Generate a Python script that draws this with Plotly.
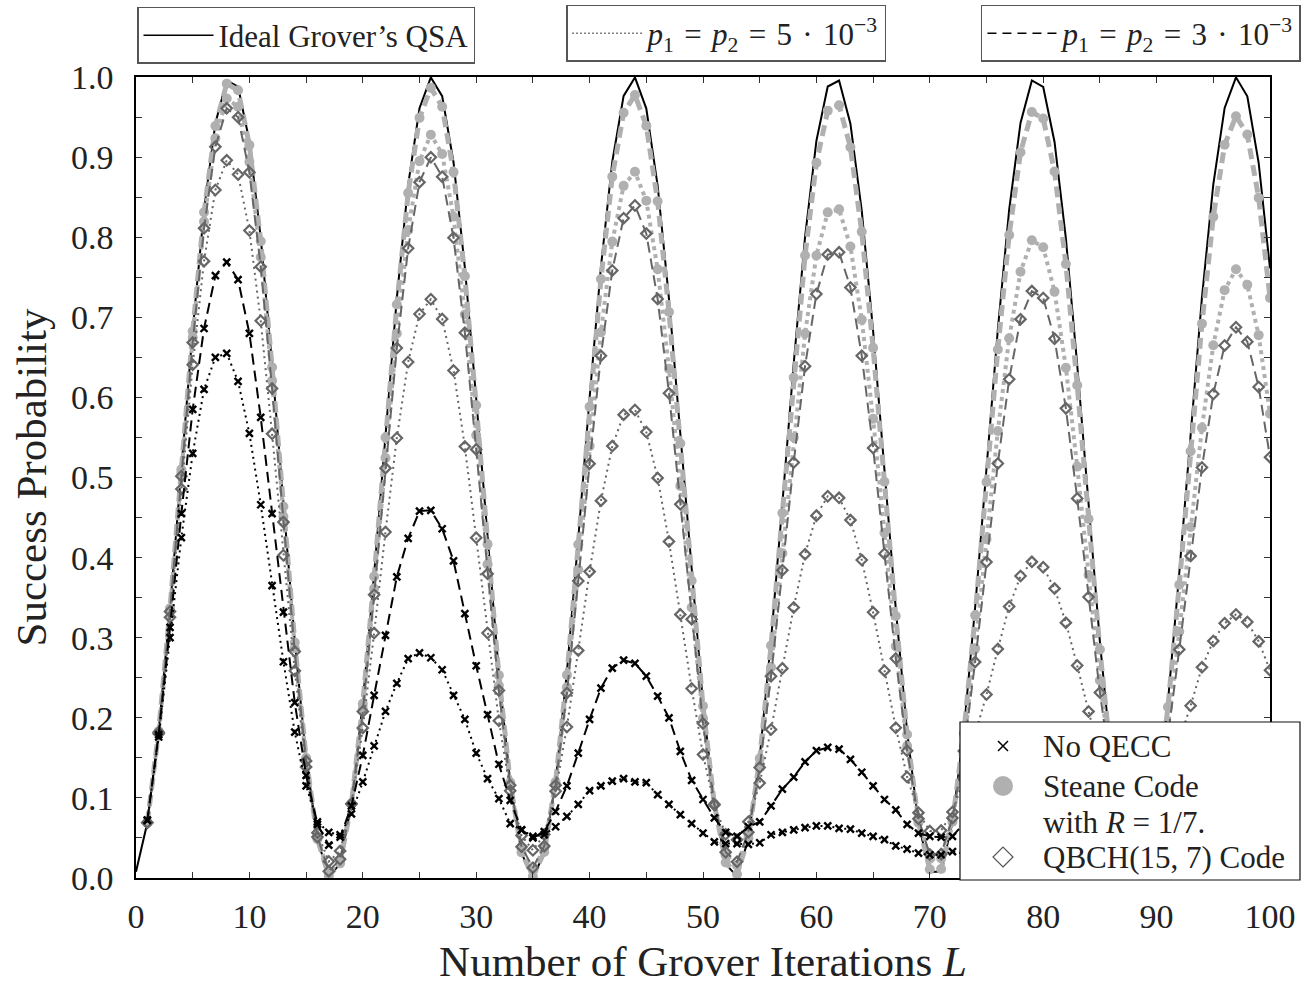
import plotly.graph_objects as go

# ---------------- data ----------------
L_ideal = list(range(0, 101))
L_noisy = list(range(1, 101))

ideal = [0.0078, 0.0689, 0.1833, 0.3371, 0.5108, 0.6840, 0.8336, 0.9422, 0.9957, 0.9879,
         0.9197, 0.7992, 0.6413, 0.4665, 0.2957, 0.1502, 0.0481, 0.0019, 0.0176, 0.0931,
         0.2190, 0.3798, 0.5556, 0.7240, 0.8653, 0.9610, 0.9995, 0.9761, 0.8936, 0.7621,
         0.5986, 0.4225, 0.2560, 0.1199, 0.0308, 0.0000, 0.0312, 0.1205, 0.2569, 0.4235,
         0.5996, 0.7630, 0.8942, 0.9764, 0.9995, 0.9606, 0.8645, 0.7231, 0.5547, 0.3789,
         0.2182, 0.0925, 0.0173, 0.0020, 0.0485, 0.1510, 0.2966, 0.4675, 0.6423, 0.8002,
         0.9203, 0.9881, 0.9956, 0.9417, 0.8328, 0.6830, 0.5098, 0.3362, 0.1826, 0.0683,
         0.0076, 0.0080, 0.0694, 0.1841, 0.3380, 0.5118, 0.6848, 0.8343, 0.9427, 0.9957,
         0.9876, 0.9189, 0.7985, 0.6403, 0.4655, 0.2948, 0.1495, 0.0476, 0.0018, 0.0178,
         0.0937, 0.2199, 0.3808, 0.5567, 0.7249, 0.8660, 0.9614, 0.9996, 0.9759, 0.8929,
         0.7612]

steane_p3 = [0.0689, 0.1832, 0.3367, 0.5099, 0.6824, 0.8311, 0.9389, 0.9917, 0.9835, 0.9151,
             0.7949, 0.6377, 0.4638, 0.2941, 0.1497, 0.0485, 0.0027, 0.0183, 0.0931, 0.2176,
             0.3765, 0.5500, 0.7160, 0.8551, 0.9490, 0.9865, 0.9629, 0.8812, 0.7514, 0.5902,
             0.4168, 0.2531, 0.1194, 0.0319, 0.0017, 0.0324, 0.1199, 0.2534, 0.4163, 0.5884,
             0.7478, 0.8756, 0.9554, 0.9775, 0.9391, 0.8449, 0.7067, 0.5424, 0.3711, 0.2147,
             0.0924, 0.0194, 0.0046, 0.0497, 0.1492, 0.2902, 0.4557, 0.6247, 0.7772, 0.8929,
             0.9580, 0.9647, 0.9122, 0.8067, 0.6618, 0.4946, 0.3271, 0.1791, 0.0691, 0.0108,
             0.0112, 0.0702, 0.1803, 0.3279, 0.4944, 0.6599, 0.8028, 0.9061, 0.9563, 0.9481,
             0.8820, 0.7665, 0.6152, 0.4481, 0.2852, 0.1467, 0.0496, 0.0061, 0.0213, 0.0935,
             0.2134, 0.3661, 0.5328, 0.6921, 0.8255, 0.9154, 0.9511, 0.9282, 0.8492, 0.7243]

steane_p5 = [0.0690, 0.1827, 0.3348, 0.5055, 0.6747, 0.8197, 0.9236, 0.9732, 0.9628, 0.8940,
             0.7750, 0.6208, 0.4514, 0.2868, 0.1474, 0.0502, 0.0065, 0.0216, 0.0929, 0.2111,
             0.3612, 0.5244, 0.6797, 0.8088, 0.8950, 0.9280, 0.9038, 0.8257, 0.7034, 0.5527,
             0.3916, 0.2401, 0.1169, 0.0368, 0.0094, 0.0375, 0.1171, 0.2381, 0.3849, 0.5392,
             0.6814, 0.7945, 0.8641, 0.8817, 0.8455, 0.7600, 0.6359, 0.4895, 0.3376, 0.1995,
             0.0921, 0.0283, 0.0155, 0.0550, 0.1413, 0.2632, 0.4054, 0.5500, 0.6797, 0.7772,
             0.8310, 0.8349, 0.7883, 0.6971, 0.5732, 0.4310, 0.2893, 0.1647, 0.0725, 0.0239,
             0.0244, 0.0736, 0.1648, 0.2864, 0.4230, 0.5581, 0.6739, 0.7568, 0.7961, 0.7875,
             0.7321, 0.6371, 0.5136, 0.3782, 0.2467, 0.1354, 0.0578, 0.0232, 0.0355, 0.0928,
             0.1875, 0.3076, 0.4381, 0.5621, 0.6652, 0.7339, 0.7600, 0.7405, 0.6777, 0.5797]

qbch_p3 = [0.0691, 0.1820, 0.3327, 0.5016, 0.6685, 0.8111, 0.9129, 0.9609, 0.9497, 0.8810,
           0.7632, 0.6111, 0.4443, 0.2828, 0.1462, 0.0511, 0.0085, 0.0233, 0.0928, 0.2078,
           0.3536, 0.5117, 0.6617, 0.7861, 0.8687, 0.8997, 0.8755, 0.7993, 0.6807, 0.5351,
           0.3797, 0.2340, 0.1158, 0.0391, 0.0129, 0.0398, 0.1159, 0.2311, 0.3708, 0.5173,
           0.6519, 0.7585, 0.8237, 0.8396, 0.8045, 0.7229, 0.6052, 0.4665, 0.3231, 0.1930,
           0.0920, 0.0321, 0.0202, 0.0572, 0.1380, 0.2518, 0.3843, 0.5187, 0.6390, 0.7291,
           0.7783, 0.7811, 0.7372, 0.6520, 0.5368, 0.4049, 0.2739, 0.1589, 0.0739, 0.0292,
           0.0298, 0.0749, 0.1585, 0.2698, 0.3945, 0.5175, 0.6227, 0.6977, 0.7327, 0.7242,
           0.6732, 0.5863, 0.4739, 0.3508, 0.2316, 0.1310, 0.0609, 0.0298, 0.0409, 0.0925,
           0.1776, 0.2852, 0.4019, 0.5125, 0.6042, 0.6649, 0.6876, 0.6695, 0.6130, 0.5253]

qbch_p5 = [0.0693, 0.1801, 0.3255, 0.4856, 0.6408, 0.7701, 0.8589, 0.8960, 0.8782, 0.8084,
           0.6957, 0.5545, 0.4029, 0.2586, 0.1387, 0.0566, 0.0207, 0.0338, 0.0924, 0.1874,
           0.3058, 0.4320, 0.5494, 0.6442, 0.7041, 0.7225, 0.6979, 0.6337, 0.5386, 0.4248,
           0.3059, 0.1963, 0.1089, 0.0531, 0.0347, 0.0543, 0.1082, 0.1885, 0.2841, 0.3825,
           0.4711, 0.5392, 0.5784, 0.5843, 0.5567, 0.4995, 0.4202, 0.3291, 0.2366, 0.1542,
           0.0912, 0.0546, 0.0477, 0.0703, 0.1185, 0.1853, 0.2617, 0.3378, 0.4043, 0.4524,
           0.4766, 0.4746, 0.4468, 0.3969, 0.3317, 0.2588, 0.1876, 0.1262, 0.0816, 0.0586,
           0.0592, 0.0824, 0.1244, 0.1793, 0.2290, 0.2860, 0.3390, 0.3770, 0.3947, 0.3879,
           0.3613, 0.3188, 0.2653, 0.2080, 0.1535, 0.1082, 0.0772, 0.0638, 0.0688, 0.0911,
           0.1271, 0.1719, 0.2150, 0.2630, 0.2960, 0.3180, 0.3291, 0.3197, 0.2954, 0.2594]

no_qecc_p3 = [0.0724, 0.179, 0.313, 0.455, 0.585, 0.686, 0.752, 0.769, 0.747, 0.680,
              0.575, 0.455, 0.332, 0.219, 0.128, 0.067, 0.041, 0.051, 0.090, 0.153,
              0.228, 0.303, 0.376, 0.424, 0.458, 0.459, 0.436, 0.396, 0.330, 0.265,
              0.204, 0.142, 0.097, 0.060, 0.050, 0.058, 0.083, 0.115, 0.156, 0.198,
              0.237, 0.262, 0.272, 0.268, 0.252, 0.227, 0.200, 0.158, 0.122, 0.098,
              0.075, 0.057, 0.052, 0.064, 0.070, 0.090, 0.111, 0.126, 0.145, 0.159,
              0.163, 0.161, 0.148, 0.132, 0.115, 0.098, 0.085, 0.067, 0.056, 0.052,
              0.051, 0.052, 0.068, 0.080, 0.093, 0.105, 0.115, 0.120, 0.122, 0.119,
              0.113, 0.103, 0.092, 0.080, 0.070, 0.061, 0.056, 0.053, 0.054, 0.058,
              0.064, 0.070, 0.078, 0.084, 0.089, 0.091, 0.092, 0.090, 0.085, 0.080]

no_qecc_p5 = [0.0719, 0.176, 0.300, 0.425, 0.530, 0.610, 0.650, 0.655, 0.620, 0.555,
              0.466, 0.365, 0.270, 0.182, 0.115, 0.070, 0.057, 0.054, 0.080, 0.120,
              0.165, 0.208, 0.243, 0.274, 0.281, 0.275, 0.260, 0.228, 0.198, 0.156,
              0.124, 0.099, 0.068, 0.060, 0.052, 0.054, 0.064, 0.077, 0.092, 0.109,
              0.115, 0.121, 0.124, 0.120, 0.119, 0.104, 0.092, 0.079, 0.068, 0.056,
              0.045, 0.043, 0.043, 0.042, 0.044, 0.054, 0.057, 0.060, 0.063, 0.065,
              0.065, 0.062, 0.061, 0.056, 0.052, 0.048, 0.040, 0.036, 0.031, 0.029,
              0.029, 0.033, 0.0305, 0.032, 0.0336, 0.035, 0.0359, 0.0361, 0.0355, 0.0343,
              0.0326, 0.0306, 0.0282, 0.0261, 0.024, 0.0224, 0.0212, 0.0205, 0.0202, 0.0203,
              0.0205, 0.0209, 0.0213, 0.0215, 0.0217, 0.0214, 0.0211, 0.0204, 0.0196, 0.0187]

x_ticks = list(range(0, 101, 10))
y_ticks = [0.0, 0.1, 0.2, 0.3, 0.4, 0.5, 0.6, 0.7, 0.8, 0.9, 1.0]

marker_legend_labels = ["No QECC", "Steane Code", "with <i>R</i> = 1/7.", "QBCH(15, 7) Code"]

# ---------------- styles ----------------
FONT = "'Liberation Serif', 'DejaVu Serif', 'Times New Roman', serif"
BLACK = "#000000"
TXT = "#222222"
LGRAY = "#b0b0b0"
DGRAY = "#666666"
DOT_THIN = "2px,4px"
DASH_THIN = "11px,6px"
DOT_THICK = "4px,4px"
DASH_THICK = "11px,6px"

fig = go.Figure()

# data traces
fig.add_trace(go.Scatter(x=L_ideal, y=ideal, mode="lines",
                         line=dict(color=BLACK, width=2), showlegend=False))
fig.add_trace(go.Scatter(x=L_noisy, y=steane_p5, mode="lines+markers",
                         line=dict(color=LGRAY, width=4, dash=DOT_THICK),
                         marker=dict(symbol="circle", size=10, color=LGRAY),
                         showlegend=False))
fig.add_trace(go.Scatter(x=L_noisy, y=steane_p3, mode="lines+markers",
                         line=dict(color=LGRAY, width=5, dash=DASH_THICK),
                         marker=dict(symbol="circle", size=10, color=LGRAY),
                         showlegend=False))
fig.add_trace(go.Scatter(x=L_noisy, y=qbch_p5, mode="lines+markers",
                         line=dict(color=DGRAY, width=2, dash=DOT_THIN),
                         marker=dict(symbol="diamond-open", size=8, color=DGRAY,
                                     line=dict(width=2.2, color=DGRAY)),
                         showlegend=False))
fig.add_trace(go.Scatter(x=L_noisy, y=qbch_p3, mode="lines+markers",
                         line=dict(color=DGRAY, width=2, dash=DASH_THIN),
                         marker=dict(symbol="diamond-open", size=8, color=DGRAY,
                                     line=dict(width=2.2, color=DGRAY)),
                         showlegend=False))
fig.add_trace(go.Scatter(x=L_noisy, y=no_qecc_p5, mode="lines+markers",
                         line=dict(color=BLACK, width=2, dash=DOT_THIN),
                         marker=dict(symbol="x-thin", size=7, color=BLACK,
                                     line=dict(width=2.4, color=BLACK)),
                         showlegend=False))
fig.add_trace(go.Scatter(x=L_noisy, y=no_qecc_p3, mode="lines+markers",
                         line=dict(color=BLACK, width=2, dash=DASH_THIN),
                         marker=dict(symbol="x-thin", size=7, color=BLACK,
                                     line=dict(width=2.4, color=BLACK)),
                         showlegend=False))

# line-style legends (top)
SP = " \u200a"
fig.add_trace(go.Scatter(x=[None], y=[None], mode="lines", name="Ideal Grover’s QSA",
                         line=dict(color=BLACK, width=1.5), legend="legend"))
fig.add_trace(go.Scatter(x=[None], y=[None], mode="lines",
                         name=f"<i>p</i><sub>1</sub>{SP}={SP}<i>p</i><sub>2</sub>{SP}={SP}5{SP}·{SP}10<sup>−3</sup>",
                         line=dict(color=BLACK, width=1.5, dash="1px,3px"), legend="legend2"))
fig.add_trace(go.Scatter(x=[None], y=[None], mode="lines",
                         name=f"<i>p</i><sub>1</sub>{SP}={SP}<i>p</i><sub>2</sub>{SP}={SP}3{SP}·{SP}10<sup>−3</sup>",
                         line=dict(color=BLACK, width=1.5, dash="9px,6px"), legend="legend3"))

top_leg = dict(bgcolor="white", borderwidth=1.5, bordercolor="#555",
               font=dict(family=FONT, size=31, color=TXT), itemwidth=70)

# marker legend (bottom right): box, keys and labels
def px2paper_x(px):
    return (px - 136) / 1134.0

def px2paper_y(py):
    return (878 - py) / 801.0

shapes = [dict(type="rect", xref="paper", yref="paper",
               x0=px2paper_x(960), x1=px2paper_x(1300), y0=px2paper_y(880), y1=px2paper_y(722),
               fillcolor="white", line=dict(color="#111", width=1.2), layer="above")]
kx = px2paper_x(1003)
key_style = dict(xref="paper", yref="paper", xsizemode="pixel", ysizemode="pixel",
                 xanchor=kx, layer="above")
shapes.append(dict(type="path", path="M-5,-5L5,5M-5,5L5,-5", yanchor=px2paper_y(746),
                   line=dict(color=BLACK, width=1.5), **key_style))
shapes.append(dict(type="circle", x0=-10, x1=10, y0=-10, y1=10, yanchor=px2paper_y(786),
                   fillcolor=LGRAY, line=dict(color=LGRAY, width=0), **key_style))
shapes.append(dict(type="path", path="M0,-10L10,0L0,10L-10,0Z", yanchor=px2paper_y(857),
                   line=dict(color="#555555", width=1.2), **key_style))

annotations = []
for lab, py in zip(marker_legend_labels, [746, 786, 822, 857]):
    annotations.append(dict(text=lab, xref="paper", yref="paper", x=px2paper_x(1041),
                            y=px2paper_y(py), xanchor="left", yanchor="middle",
                            showarrow=False, font=dict(family=FONT, size=31, color=TXT)))

fig.update_layout(
    width=1312, height=985,
    margin=dict(l=136, r=42, t=77, b=107, autoexpand=False),
    paper_bgcolor="white", plot_bgcolor="white",
    font=dict(family=FONT, color=TXT),
    legend=dict(x=0.0009, y=1.0874, xanchor="left", yanchor="top", **top_leg),
    legend2=dict(x=0.3792, y=1.0899, xanchor="left", yanchor="top", **top_leg),
    legend3=dict(x=1.0273, y=1.0899, xanchor="right", yanchor="top", **top_leg),
    shapes=shapes,
    annotations=annotations,
    xaxis=dict(range=[0, 100], tickvals=x_ticks, ticktext=[str(v) for v in x_ticks],
               ticks="inside", ticklen=6, tickwidth=1.2, tickcolor="#333",
               showline=True, linecolor=BLACK, linewidth=1.5, mirror="ticks",
               showgrid=False, zeroline=False, ticklabelstandoff=7, automargin=False,
               minor=dict(dtick=5, ticks="inside", ticklen=6, tickwidth=1.2, tickcolor="#333", showgrid=False),
               tickfont=dict(family=FONT, size=34, color=TXT),
               title=dict(text="Number of Grover Iterations <i>L</i>", standoff=16,
                          font=dict(family=FONT, size=43, color=TXT))),
    yaxis=dict(range=[0, 1], tickvals=y_ticks, ticktext=["%.1f" % v for v in y_ticks],
               ticks="inside", ticklen=6, tickwidth=1.2, tickcolor="#333",
               showline=True, linecolor=BLACK, linewidth=1.5, mirror="ticks",
               showgrid=False, zeroline=False, ticklabelstandoff=14, automargin=False,
               minor=dict(dtick=0.05, ticks="inside", ticklen=6, tickwidth=1.2, tickcolor="#333", showgrid=False),
               tickfont=dict(family=FONT, size=34, color=TXT),
               title=dict(text="Success Probability", standoff=11,
                          font=dict(family=FONT, size=43, color=TXT))),
)

fig.write_html("out.html")
